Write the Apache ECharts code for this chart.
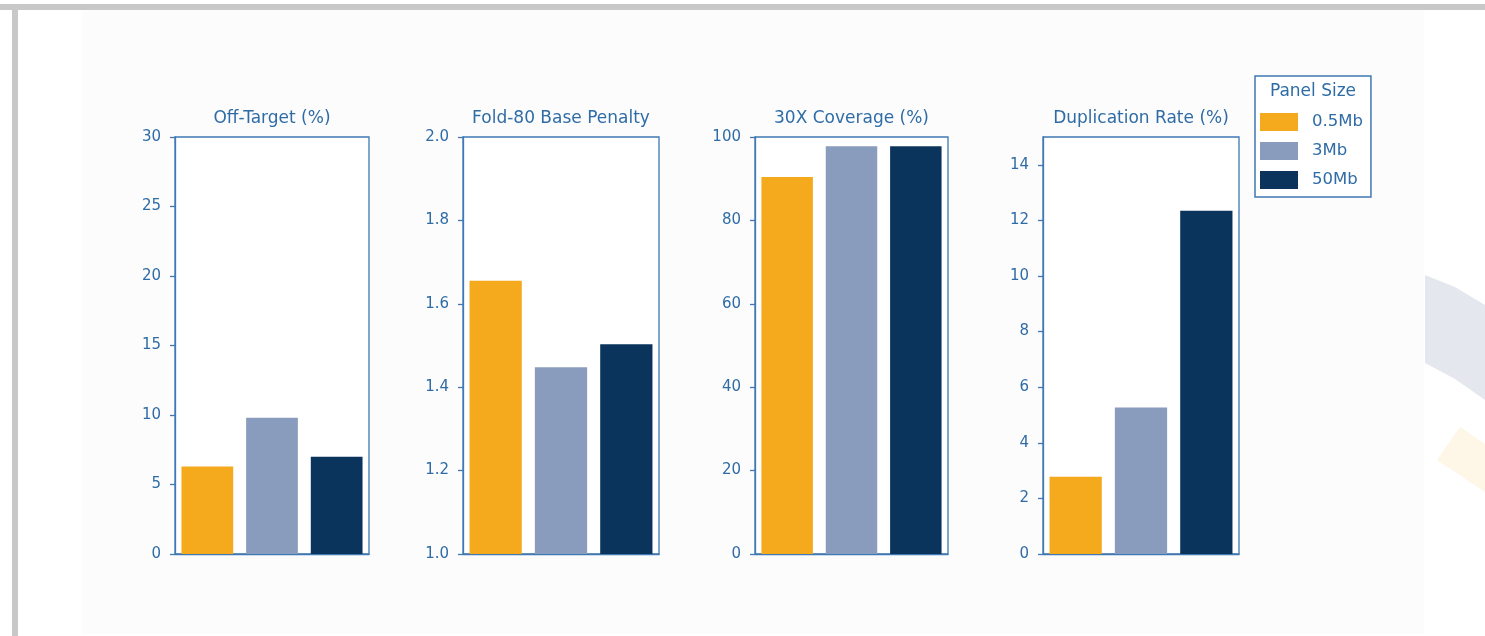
<!DOCTYPE html>
<html>
<head>
<meta charset="utf-8">
<script src="https://cdn.jsdelivr.net/npm/echarts@6/dist/echarts.min.js"></script>
<style>
html,body{margin:0;padding:0;background:#ffffff;}
#chart{width:1485px;height:636px;}
</style>
</head>
<body>
<div id="chart"></div>
<script>
// ---- data ----
var sizes = ['0.5Mb', '3Mb', '50Mb'];
var panelTitles = ['Off-Target (%)', 'Fold-80 Base Penalty', '30X Coverage (%)', 'Duplication Rate (%)'];
var offTarget = [6.3, 9.8, 7.0];
var fold80 = [1.655, 1.448, 1.503];
var coverage30x = [90.4, 97.8, 97.8];
var duplication = [2.78, 5.27, 12.35];
var panelValues = [offTarget, fold80, coverage30x, duplication];
var yMins = [0, 1.0, 0, 0];
var yMaxs = [30, 2.0, 100, 15];
var yTicks = [
  [0, 5, 10, 15, 20, 25, 30],
  [1.0, 1.2, 1.4, 1.6, 1.8, 2.0],
  [0, 20, 40, 60, 80, 100],
  [0, 2, 4, 6, 8, 10, 12, 14]
];
var yDecimals = [0, 1, 0, 0];

// ---- style ----
var colors = ['#F5A91C', '#8A9CBD', '#0B345D'];
var blue = '#2f6ca6';
var axisBlue = '#3f78b3';
var font = 'DejaVu Sans';
var lefts = [175, 463, 755, 1043];
var widths = [194, 196, 193, 196];
var top0 = 137, h0 = 417;

var grids = [], xAxes = [], yAxes = [], series = [], titles = [];
for (var g = 0; g < 4; g++) {
  grids.push({left: lefts[g], top: top0, width: widths[g], height: h0,
    show: true, borderColor: axisBlue, borderWidth: 1.3, backgroundColor: '#ffffff'});
  xAxes.push({type: 'category', gridIndex: g, data: sizes,
    axisLine: {show: true, lineStyle: {color: axisBlue, width: 1.3}},
    axisTick: {show: false}, axisLabel: {show: false}, splitLine: {show: false}});
  (function (dec) {
    yAxes.push({type: 'value', gridIndex: g, min: yMins[g], max: yMaxs[g],
      axisLine: {show: true, lineStyle: {color: axisBlue, width: 1.3}},
      axisTick: {show: true, length: 5, lineStyle: {color: axisBlue, width: 1.3}, customValues: yTicks[g]},
      axisLabel: {show: true, color: blue, fontFamily: font, fontSize: 15, margin: 14,
        customValues: yTicks[g],
        formatter: function (v) { return Number(v).toFixed(dec); }},
      splitLine: {show: false}});
  })(yDecimals[g]);
  titles.push({text: panelTitles[g], left: lefts[g] + widths[g] / 2, top: 110, textAlign: 'center', padding: 0,
    textStyle: {color: blue, fontFamily: font, fontSize: 17, fontWeight: 'normal'}});
  for (var s = 0; s < 3; s++) {
    var d = ['-', '-', '-'];
    d[s] = panelValues[g][s];
    series.push({type: 'bar', name: sizes[s], xAxisIndex: g, yAxisIndex: g, data: d,
      barWidth: '80%', barGap: '-100%', itemStyle: {color: colors[s]}, silent: true});
  }
}
titles.push({text: 'Panel Size', left: 1313, top: 83, textAlign: 'center', padding: 0,
  textStyle: {color: blue, fontFamily: font, fontSize: 17, fontWeight: 'normal'}});

var chart = echarts.init(document.getElementById('chart'));
chart.setOption({
  animation: false,
  backgroundColor: '#ffffff',
  graphic: [
    {type: 'rect', z: -10, shape: {x: 0, y: 4, width: 1485, height: 6}, style: {fill: '#c8c8c8'}},
    {type: 'rect', z: -10, shape: {x: 12, y: 4, width: 6, height: 632}, style: {fill: '#c8c8c8'}},
    {type: 'rect', z: -10, shape: {x: 82, y: 10, width: 1342, height: 624}, style: {fill: '#fcfcfc'}},
    {type: 'polygon', z: -10, shape: {points: [[1425, 275], [1455, 287], [1485, 305], [1485, 400], [1455, 379], [1425, 363]]}, style: {fill: '#e4e8ee'}},
    {type: 'polygon', z: -10, shape: {points: [[1437, 460], [1460, 427], [1485, 444], [1485, 492]]}, style: {fill: '#fef6e6'}}
  ],
  title: titles,
  legend: {
    data: sizes, orient: 'vertical', left: 1255, top: 76,
    padding: [37, 8, 8, 5], itemWidth: 38, itemHeight: 18, itemGap: 11, icon: 'rect',
    borderColor: axisBlue, borderWidth: 1.5, backgroundColor: '#ffffff',
    selectedMode: false,
    textStyle: {color: blue, fontFamily: font, fontSize: 16.5, width: 55, padding: [0, 0, 0, 9]}
  },
  grid: grids, xAxis: xAxes, yAxis: yAxes, series: series
});
</script>
</body>
</html>
